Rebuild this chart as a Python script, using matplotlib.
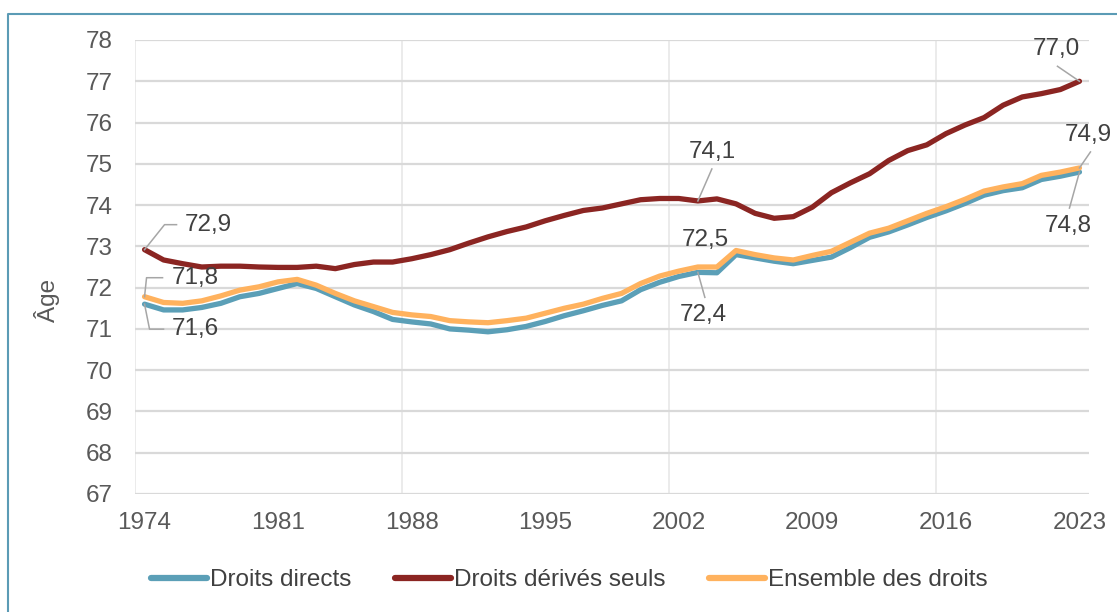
"""
Age moyen de départ à la retraite par type de droits (1974-2023)
"""
import numpy as np
import matplotlib
matplotlib.use("Agg")
import matplotlib.pyplot as plt
import matplotlib.transforms as mtransforms
from matplotlib.lines import Line2D

plt.rcParams['font.family'] = ['Liberation Sans', 'DejaVu Sans']

years = list(range(1974, 2024))

droits_directs = [
    71.60, 71.46, 71.46, 71.52, 71.62, 71.78, 71.86, 71.98, 72.10, 71.98,
    71.78, 71.58, 71.42, 71.23, 71.17, 71.12, 71.00, 70.97, 70.93, 70.98,
    71.06, 71.18, 71.32, 71.44, 71.57, 71.68, 71.95, 72.13, 72.27, 72.37,
    72.36, 72.80, 72.72, 72.64, 72.58, 72.66, 72.74, 72.97, 73.22, 73.35,
    73.52, 73.70, 73.86, 74.04, 74.24, 74.35, 74.42, 74.62, 74.70, 74.80]

droits_derives = [
    72.92, 72.67, 72.58, 72.50, 72.52, 72.52, 72.50, 72.49, 72.49, 72.52,
    72.46, 72.56, 72.62, 72.62, 72.70, 72.80, 72.92, 73.08, 73.23, 73.36,
    73.47, 73.62, 73.75, 73.87, 73.93, 74.03, 74.13, 74.16, 74.16, 74.10,
    74.15, 74.03, 73.80, 73.68, 73.72, 73.95, 74.30, 74.54, 74.76, 75.08,
    75.32, 75.46, 75.73, 75.94, 76.12, 76.42, 76.62, 76.70, 76.80, 77.00]

ensemble = [
    71.78, 71.64, 71.62, 71.68, 71.80, 71.94, 72.02, 72.14, 72.20, 72.06,
    71.86, 71.68, 71.54, 71.40, 71.34, 71.30, 71.20, 71.17, 71.15, 71.20,
    71.26, 71.38, 71.50, 71.60, 71.74, 71.86, 72.10, 72.28, 72.40, 72.50,
    72.50, 72.90, 72.80, 72.72, 72.67, 72.78, 72.88, 73.10, 73.32, 73.44,
    73.62, 73.80, 73.96, 74.14, 74.34, 74.44, 74.52, 74.72, 74.80, 74.90]

series_names = ["Droits directs", "Droits dérivés seuls", "Ensemble des droits"]
series_colors = ["#5B9FB7", "#8B2522", "#FFB25E"]

# labelled points: (series index, year, text, leader offsets px, text offset px, ha)
labels = [
    (1, 1974, "72,9", [(0, 0), (20, 25), (32, 25)], (40, 25), 'left'),
    (2, 1974, "71,8", [(0, 0), (2, 19), (18, 19)], (27, 19), 'left'),
    (0, 1974, "71,6", [(0, 0), (5, -25), (19, -25)], (27, -25), 'left'),
    (1, 2003, "74,1", [(0, 0), (14, 32)], (14, 49), 'center'),
    (2, 2003, "72,5", None, (7, 27), 'center'),
    (0, 2003, "72,4", [(0, 0), (7, -25)], (5, -43), 'center'),
    (1, 2023, "77,0", [(0, 0), (-22, 15)], (-23, 32), 'center'),
    (2, 2023, "74,9", [(0, 0), (11, 16)], (9, 33), 'center'),
    (0, 2023, "74,8", [(0, 0), (-10, -36)], (-11, -54), 'center'),
]

FS = 17.5

fig = plt.figure(figsize=(11.17, 6.12), dpi=100)
ax = fig.add_axes([135 / 1117, 1 - 494 / 612, (1089 - 135) / 1117, (494 - 40) / 612])

data = [droits_directs, droits_derives, ensemble]
for values, name, color in zip(data, series_names, series_colors):
    ax.plot(years, values, color=color, linewidth=3.8, label=name,
            solid_joinstyle='round', solid_capstyle='round', zorder=3)

ax.set_xlim(1973.5, 2023.5)
ax.set_ylim(67, 78)
ax.set_yticks(np.arange(67, 79, 1))
ax.set_xticks(years[::7])
ax.set_xticklabels([str(y) for y in years[::7]])

# horizontal grid
for v in range(67, 79):
    ax.axhline(v, color='#D9D9D9', linewidth=1.6, zorder=1)
# vertical grid between categories, every 14 years
for v in np.arange(1973.5, 2023.5, 14):
    ax.axvline(v, color='#EBEBEB', linewidth=1.4, zorder=0)

for s in ax.spines.values():
    s.set_visible(False)
ax.tick_params(axis='both', length=0, labelsize=FS, colors='#595959')
ax.tick_params(axis='x', pad=13)
ax.tick_params(axis='y', pad=16)

fig.text(47 / 1117, 1 - 300 / 612, "Âge", rotation=90, fontsize=FS,
         color='#595959', ha='center', va='center')

# data labels with leader lines
for idx, year, text, leader, (tx, ty), ha in labels:
    i = years.index(year)
    px, py = ax.transData.transform((year, data[idx][i]))
    if leader:
        fig.add_artist(Line2D([px + dx for dx, dy in leader],
                              [py + dy for dx, dy in leader],
                              transform=mtransforms.IdentityTransform(),
                              color='#A6A6A6', linewidth=1.1, zorder=4))
    fig.text(px + tx, py + ty, text, transform=mtransforms.IdentityTransform(),
             fontsize=FS, color='#404040', ha=ha, va='center')

leg = fig.legend(loc='center', bbox_to_anchor=(0.51, 0.052), ncol=3, frameon=False,
                 fontsize=FS, handlelength=2.3, handletextpad=0.12,
                 columnspacing=1.8, labelcolor='#404040')
for h in leg.get_lines():
    h.set_linewidth(4.5)

# outer frame (top and left edges visible)
fig.add_artist(Line2D([8, 8, 1117], [0, 612 - 14, 612 - 14],
                      transform=mtransforms.IdentityTransform(),
                      color='#5B9BB5', linewidth=1.5))

fig.savefig("out.png", dpi=100)
